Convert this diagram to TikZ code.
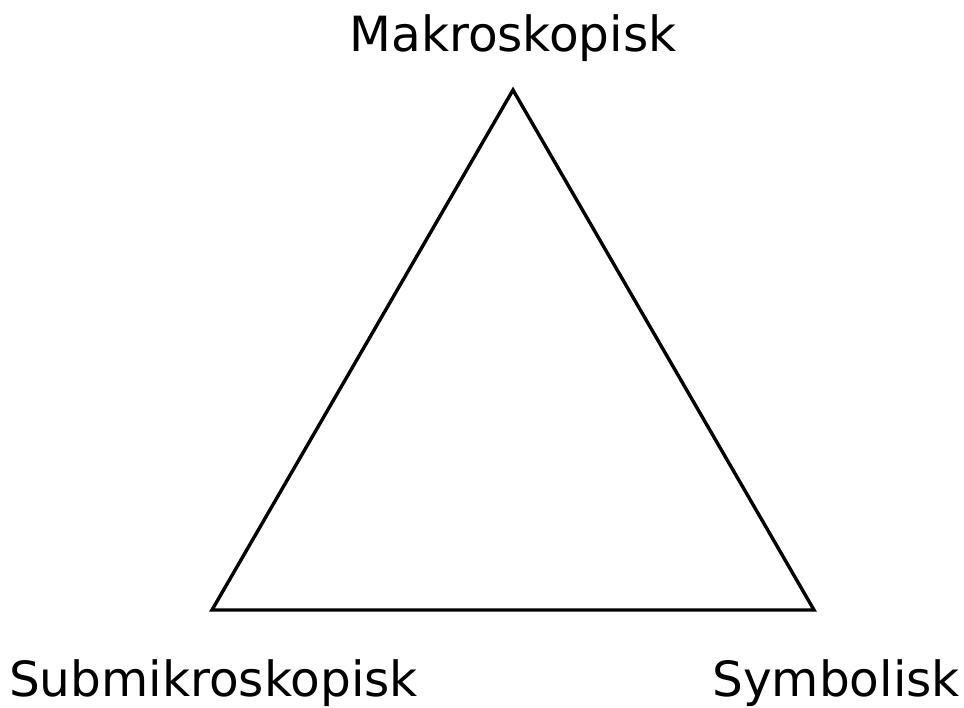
\documentclass[tikz,border=0pt]{standalone}
\usepackage{fontspec}
\setmainfont{DejaVu Sans}
\begin{document}
\begin{tikzpicture}[x=1pt,y=1pt,
  lbl/.style={inner sep=0pt, font=\fontsize{48.5}{58}\selectfont},
  edge/.style={line width=3.4pt, line join=miter}]
\useasboundingbox (0,0) rectangle (964,707);
% corners of the triangle
\coordinate (top) at (513,617);
\coordinate (left) at (212,97);
\coordinate (right) at (814,97);
\draw[edge] (top) -- (left) -- (right) -- cycle;
% labels at the three corners
\node[lbl, anchor=base] (makro) at (513,655) {Makroskopisk};
\node[lbl, anchor=base west] (submikro) at (9,11) {Submikroskopisk};
\node[lbl, anchor=base east] (symb) at (960,11) {Symbolisk};
\end{tikzpicture}
\end{document}
